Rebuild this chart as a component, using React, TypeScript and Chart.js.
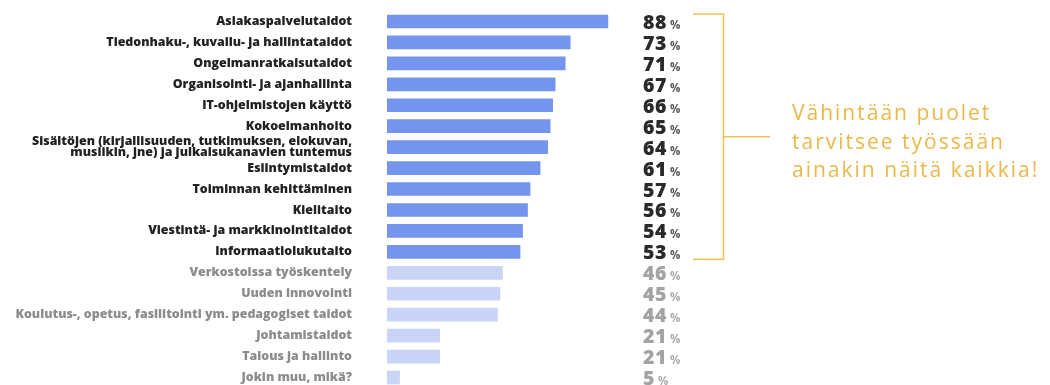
import React, { useEffect, useRef } from "react";
import { Chart, registerables } from "chart.js";

Chart.register(...registerables);

const categories: (string | string[])[] = [
  "Asiakaspalvelutaidot",
  "Tiedonhaku-, kuvailu- ja hallintataidot",
  "Ongelmanratkaisutaidot",
  "Organisointi- ja ajanhallinta",
  "IT-ohjelmistojen käyttö",
  "Kokoelmanhoito",
  ["Sisältöjen (kirjallisuuden, tutkimuksen, elokuvan,", "musiikin, jne) ja julkaisukanavien tuntemus"],
  "Esiintymistaidot",
  "Toiminnan kehittäminen",
  "Kielitaito",
  "Viestintä- ja markkinointitaidot",
  "Informaatiolukutaito",
  "Verkostoissa työskentely",
  "Uuden innovointi",
  "Koulutus-, opetus, fasilitointi ym. pedagogiset taidot",
  "Johtamistaidot",
  "Talous ja hallinto",
  "Jokin muu, mikä?",
];

const values: number[] = [88, 73, 71, 67, 66, 65, 64, 61, 57, 56, 54, 53, 46, 45, 44, 21, 21, 5];

// number of top items that at least half need
const highlightedCount = 12;

const annotationLines: string[] = ["Vähintään puolet", "tarvitsee työssään", "ainakin näitä kaikkia!"];

const DARK_BAR = "#7594ee";
const LIGHT_BAR = "#c9d4f7";
const DARK_TEXT = "#222222";
const GRAY_TEXT = "#8c8c8c";
const GOLD = "#eec154";
const GOLD_TEXT = "#e9b849";

const overlayPlugin = {
  id: "overlay",
  afterDraw(chart: any) {
    const ctx = chart.ctx as CanvasRenderingContext2D;
    const meta = chart.getDatasetMeta(0);
    const valueX = 643;
    ctx.save();
    ctx.textBaseline = "alphabetic";
    ctx.textAlign = "left";
    meta.data.forEach((bar: any, i: number) => {
      const hl = i < highlightedCount;
      const y = bar.y + 7.5;
      const num = String(values[i]);
      ctx.font = "800 19.5px 'Open Sans'";
      (ctx as any).letterSpacing = "0.6px";
      ctx.fillStyle = hl ? "#2a2a2a" : "#a3a3a3";
      ctx.fillText(num, valueX, y);
      const w = ctx.measureText(num).width;
      ctx.font = "700 11.5px 'Open Sans'";
      (ctx as any).letterSpacing = "0px";
      ctx.fillStyle = hl ? "#555555" : "#aaaaaa";
      ctx.fillText("%", valueX + w + 3, y);
    });

    // bracket
    const top = meta.data[0].y - 7.5;
    const bottom = meta.data[highlightedCount - 1].y + 7.5;
    const bx = 723.5;
    const mid = (top + bottom) / 2;
    ctx.strokeStyle = GOLD;
    ctx.lineWidth = 1.5;
    ctx.beginPath();
    ctx.moveTo(693, top);
    ctx.lineTo(bx, top);
    ctx.lineTo(bx, bottom);
    ctx.lineTo(693, bottom);
    ctx.moveTo(bx, mid);
    ctx.lineTo(770, mid);
    ctx.stroke();

    ctx.fillStyle = GOLD_TEXT;
    ctx.font = "400 21px 'Open Sans'";
    (ctx as any).letterSpacing = "2px";
    annotationLines.forEach((line, k) => {
      ctx.fillText(line, 792, 120 + k * 28.5);
    });
    ctx.restore();
  },
};

export default function App() {
  const ref = useRef<HTMLCanvasElement | null>(null);
  useEffect(() => {
    document.body.style.margin = "0";
    document.body.style.overflow = "hidden";
    const chart = new Chart(ref.current!, {
      type: "bar",
      data: {
        labels: categories,
        datasets: [
          {
            data: values,
            backgroundColor: values.map((_, i) => (i < highlightedCount ? DARK_BAR : LIGHT_BAR)),
            barThickness: 13,
            borderWidth: 0,
          },
        ],
      },
      options: {
        indexAxis: "y",
        responsive: false,
        animation: false,
        layout: { padding: { top: 11, bottom: 0, left: 0, right: 412 } },
        plugins: { legend: { display: false }, tooltip: { enabled: false } },
        scales: {
          x: { display: false, min: 0, max: 100 },
          y: {
            grid: { display: false, drawTicks: false },
            border: { display: false },
            afterFit: (s: any) => {
              s.width = 387;
              s.paddingTop = 0;
              s.paddingBottom = 0;
            },
            ticks: {
              padding: 35,
              autoSkip: false,
              font: { family: "'Open Sans'", weight: "800", size: 12.4, lineHeight: 0.9 },
              color: (c: any) => (c.index < highlightedCount ? DARK_TEXT : GRAY_TEXT),
            },
          },
        },
      },
      plugins: [overlayPlugin],
    });
    return () => chart.destroy();
  }, []);
  return <canvas ref={ref} width={1050} height={388} style={{ display: "block" }} />;
}
